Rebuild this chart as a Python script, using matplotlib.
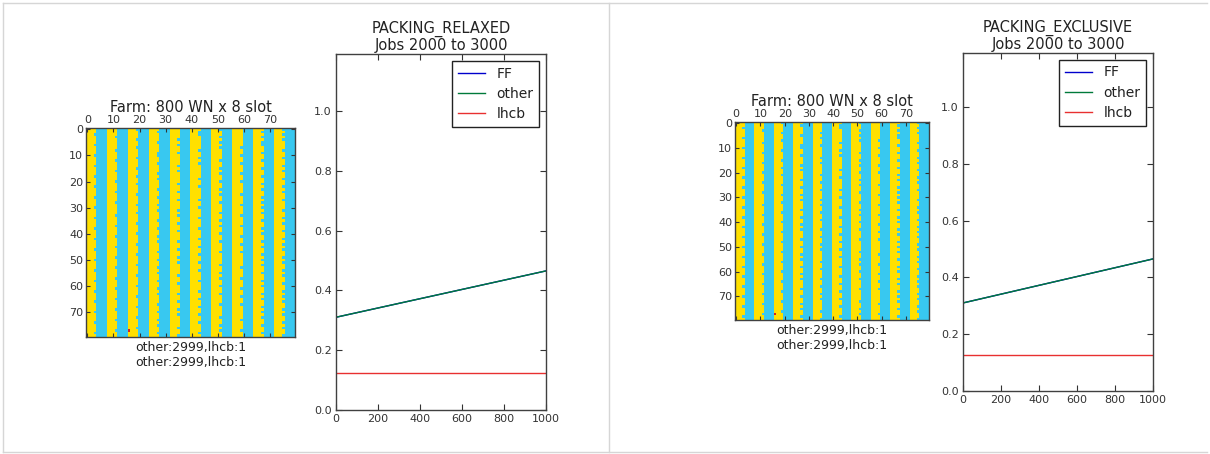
import matplotlib
matplotlib.use('Agg')
import matplotlib.pyplot as plt
import numpy as np
from matplotlib.colors import ListedColormap
from matplotlib.lines import Line2D

# ---------------- data ----------------
jobs_x = [0, 200, 400, 600, 800, 1000]
ff_vals = [0.310, 0.341, 0.372, 0.403, 0.434, 0.465]
other_vals = [0.310, 0.341, 0.372, 0.403, 0.434, 0.465]
lhcb_vals = [0.125, 0.125, 0.125, 0.125, 0.125, 0.125]
series_labels = ["FF", "other", "lhcb"]

x_ticks = [0, 200, 400, 600, 800, 1000]
y_ticks = [0.0, 0.2, 0.4, 0.6, 0.8, 1.0]
farm_ticks = [0, 10, 20, 30, 40, 50, 60, 70]

panel_titles = ["PACKING_RELAXED\nJobs 2000 to 3000",
                "PACKING_EXCLUSIVE\nJobs 2000 to 3000"]
farm_title = "Farm: 800 WN x 8 slot"
farm_label = "other:2999,lhcb:1\nother:2999,lhcb:1"

slots_per_wn = 8
# number of occupied slots for each of the 10 worker nodes in each of the 80 rows
wn_fill_rows = [
    "4434443443", "4443434434", "3444434443", "4344443434", "4434344443",
    "4443443434", "3444344434", "4434443344", "4344434443", "4443344434",
    "3443444344", "4434434443", "4344443434", "4443434344", "3444344443",
    "4434443434", "4344344443", "4443443344", "3434444434", "4443434443",
    "4344443344", "4434344434", "3444434443", "4443443434", "4344344443",
    "4434443344", "3443444434", "4444334443", "4344443434", "4433444344",
    "3444434434", "4443344443", "4434443434", "4344344344", "3444434443",
    "4443443434", "4434344443", "4344443344", "3443434434", "4444344443",
    "4434443434", "4343444344", "3444434443", "4443343434", "4434444343",
    "4344434434", "3444344443", "4443443344", "4434434434", "4344344443",
    "3443444434", "4444334443", "4434443434", "4343444344", "3444434443",
    "4443443434", "4434344443", "4344443344", "3443434434", "4444344443",
    "4434443434", "4343444344", "3444434443", "4443343434", "4434444343",
    "4344434434", "3444344443", "4443443344", "4434434434", "4344344443",
    "3443444434", "4444334443", "4434443434", "4343444344", "3444434443",
    "4443443434", "4434344443", "4344443344", "3443434434", "4444344443",
]
lhcb_cells = [(77, 16), (77, 16)]

# ---------------- figure ----------------
W, H = 1210, 454
fig = plt.figure(figsize=(W / 100, H / 100), dpi=100)
fig.patch.set_facecolor('white')


def box(x0, y0, x1, y1):
    return [x0 / W, 1 - y1 / H, (x1 - x0) / W, (y1 - y0) / H]


heat_boxes = [box(86, 128, 295, 337), box(735, 122, 929, 320)]
line_boxes = [box(336, 54, 546, 410), box(963, 53, 1153, 391)]

cmap = ListedColormap(['#38C8F0', '#FFE000', '#D42020'])
spine_col = '#404040'

for p in range(2):
    grid = np.zeros((len(wn_fill_rows), len(wn_fill_rows[0]) * slots_per_wn))
    for r, row in enumerate(wn_fill_rows):
        for w, ch in enumerate(row):
            grid[r, w * slots_per_wn: w * slots_per_wn + int(ch)] = 1
    rr, cc = lhcb_cells[p]
    grid[rr, cc] = 2

    ax = fig.add_axes(heat_boxes[p])
    ax.imshow(grid, cmap=cmap, vmin=-0.5, vmax=2.5, interpolation='nearest',
              aspect='auto')
    ax.xaxis.tick_top()
    ax.xaxis.set_label_position('bottom')
    ax.set_xticks(farm_ticks)
    ax.set_yticks(farm_ticks)
    ax.tick_params(direction='in', top=True, bottom=True, left=True, right=True,
                   labeltop=True, labelbottom=False, labelsize=8, length=3,
                   pad=2, colors='#333333')
    ax.set_title(farm_title, fontsize=10.5, pad=1, color='#222222')
    ax.set_xlabel(farm_label, fontsize=9, labelpad=3, color='#222222')
    for s in ax.spines.values():
        s.set_color(spine_col)
        s.set_linewidth(1)

    ax2 = fig.add_axes(line_boxes[p])
    ax2.plot(jobs_x, ff_vals, color='#0000cc', lw=1, label=series_labels[0])
    ax2.plot(jobs_x, other_vals, color='#007a3a', lw=1, label=series_labels[1])
    ax2.plot(jobs_x, lhcb_vals, color='#e83030', lw=1, label=series_labels[2])
    ax2.set_xlim(0, 1000)
    ax2.set_ylim(0, 1.19)
    ax2.set_xticks(x_ticks)
    ax2.set_yticks(y_ticks)
    ax2.set_yticklabels([f"{v:.1f}" for v in y_ticks])
    ax2.tick_params(direction='in', top=True, bottom=True, left=True, right=True,
                    labelsize=8, length=4, pad=3, colors='#333333')
    ax2.set_title(panel_titles[p], fontsize=10.5, pad=3, color='#222222',
                  linespacing=1.05)
    for s in ax2.spines.values():
        s.set_color(spine_col)
        s.set_linewidth(1)
    leg = ax2.legend(loc='upper right', fontsize=10, fancybox=False,
                     framealpha=1, edgecolor='#222222', borderaxespad=0.5,
                     handlelength=2, labelspacing=0.45)
    leg.get_frame().set_linewidth(1)
    for t in leg.get_texts():
        t.set_color('#222222')

# panel frame lines
frame_col = '#d6d6d6'
for (xa, ya, xb, yb) in [(3, 3, 1207, 3), (3, 3, 3, 452), (609, 3, 609, 452),
                         (3, 452, 1207, 452)]:
    fig.add_artist(Line2D([xa / W, xb / W], [1 - ya / H, 1 - yb / H],
                          color=frame_col, lw=1))

fig.savefig('out.png', dpi=100, facecolor='white')
